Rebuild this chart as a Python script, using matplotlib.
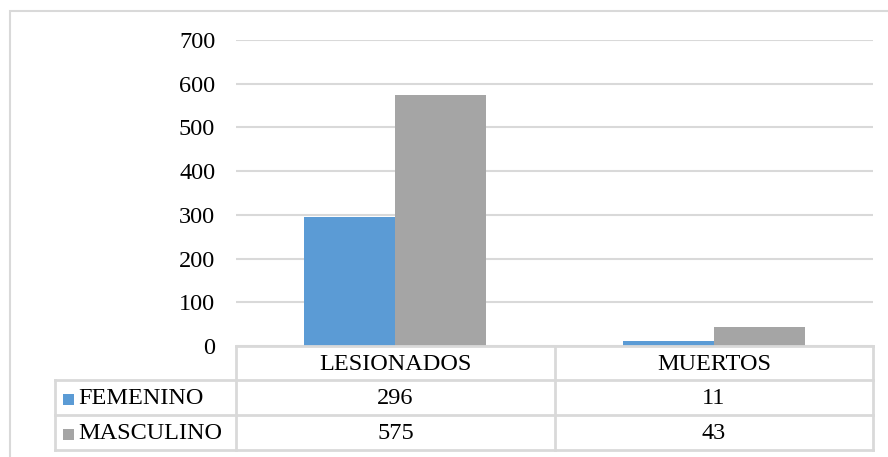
import matplotlib.pyplot as plt
from matplotlib.lines import Line2D
from matplotlib.patches import Rectangle
import numpy as np

categories = ["LESIONADOS", "MUERTOS"]
series = ["FEMENINO", "MASCULINO"]
femenino = [296, 11]
masculino = [575, 43]
colors = ["#5B9BD5", "#A5A5A5"]
yticks = [0, 100, 200, 300, 400, 500, 600, 700]

W, H = 888, 457
plt.rcParams["font.family"] = ["Liberation Serif", "DejaVu Serif"]
grid_c = "#D9D9D9"
fs = 17.5


def fx(x):
    return x / W


def fy(y):
    return 1 - y / H


fig = plt.figure(figsize=(W / 100, H / 100), dpi=100)

# plot area in pixels
x0, x1 = 236, 873
ytop, ybase = 40, 346
ax = fig.add_axes([fx(x0), fy(ybase), fx(x1 - x0), (ybase - ytop) / H])
ax.set_xlim(-0.5, 1.5)
ax.set_ylim(0, 700)

bw = 0.285
xpos = np.arange(len(categories))
for i, vals in enumerate([femenino, masculino]):
    ax.bar(xpos + (i - 0.5) * bw, vals, width=bw, color=colors[i], zorder=3)

ax.set_yticks(yticks)
ax.yaxis.grid(True, color=grid_c, linewidth=1.5, zorder=0)
ax.set_xticks([])
ax.tick_params(axis="y", length=0, labelsize=fs, pad=15)
for s in ax.spines.values():
    s.set_visible(False)

# outer border
fig.add_artist(Rectangle((fx(10), fy(500)), fx(1000), 489 / H, transform=fig.transFigure,
                         fill=False, edgecolor=grid_c, linewidth=1.5))

# data table
row_y = [346, 380, 415, 450]
col_x = [55, 236, 555, 873]


def hline(y, xa, xb):
    fig.add_artist(Line2D([fx(xa), fx(xb)], [fy(y), fy(y)], color=grid_c, linewidth=2,
                          transform=fig.transFigure))


def vline(x, ya, yb):
    fig.add_artist(Line2D([fx(x), fx(x)], [fy(ya), fy(yb)], color=grid_c, linewidth=2,
                          transform=fig.transFigure))


hline(row_y[0], col_x[1], col_x[3])
for y in row_y[1:]:
    hline(y, col_x[0], col_x[3])
vline(col_x[0], row_y[1], row_y[3])
for x in col_x[1:]:
    vline(x, row_y[0], row_y[3])

for j, cat in enumerate(categories):
    cx = (col_x[j + 1] + col_x[j + 2]) / 2
    fig.text(fx(cx), fy((row_y[0] + row_y[1]) / 2 + 1), cat, ha="center", va="center", fontsize=fs)

for i, (name, vals) in enumerate(zip(series, [femenino, masculino])):
    cy = (row_y[i + 1] + row_y[i + 2]) / 2 + 1
    fig.add_artist(Rectangle((fx(63), fy(cy + 6)), fx(11), 11 / H, transform=fig.transFigure,
                             facecolor=colors[i], edgecolor="none"))
    fig.text(fx(78), fy(cy), name, ha="left", va="center", fontsize=fs)
    for j, v in enumerate(vals):
        cx = (col_x[j + 1] + col_x[j + 2]) / 2
        fig.text(fx(cx), fy(cy), str(v), ha="center", va="center", fontsize=fs)

fig.savefig("out.png", dpi=100)
